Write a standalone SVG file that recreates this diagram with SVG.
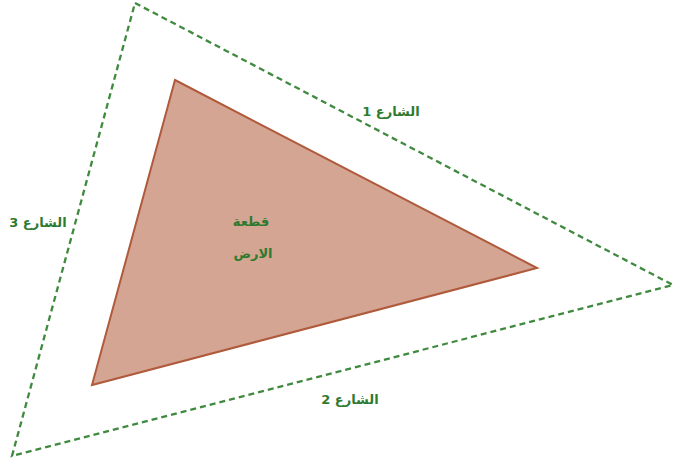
<svg xmlns="http://www.w3.org/2000/svg" width="675" height="469" viewBox="0 0 675 469">
<style>
.road{fill:none;stroke:#3f8a3f;stroke-width:2.3;stroke-dasharray:6,4}
.lbl{font-family:"DejaVu Sans",sans-serif;font-weight:bold;font-size:13px;fill:#2f7a2f;text-anchor:middle}
</style>
<rect width="675" height="469" fill="#ffffff"/>
<g id="roads">
<polygon class="road" points="135,3 673,285 12,456"/>
</g>
<g id="plot">
<polygon points="175,80 537,268 92,385" fill="#d4a592" stroke="#b05a3c" stroke-width="2"/>
<text class="lbl" x="251" y="226">قطعة</text>
<text class="lbl" x="253" y="258">الارض</text>
</g>
<g id="street1"><text class="lbl" x="391" y="116" direction="rtl" unicode-bidi="embed">الشارع 1</text></g>
<g id="street3"><text class="lbl" x="38" y="227" direction="rtl" unicode-bidi="embed">الشارع 3</text></g>
<g id="street2"><text class="lbl" x="350" y="404" direction="rtl" unicode-bidi="embed">الشارع 2</text></g>
</svg>
